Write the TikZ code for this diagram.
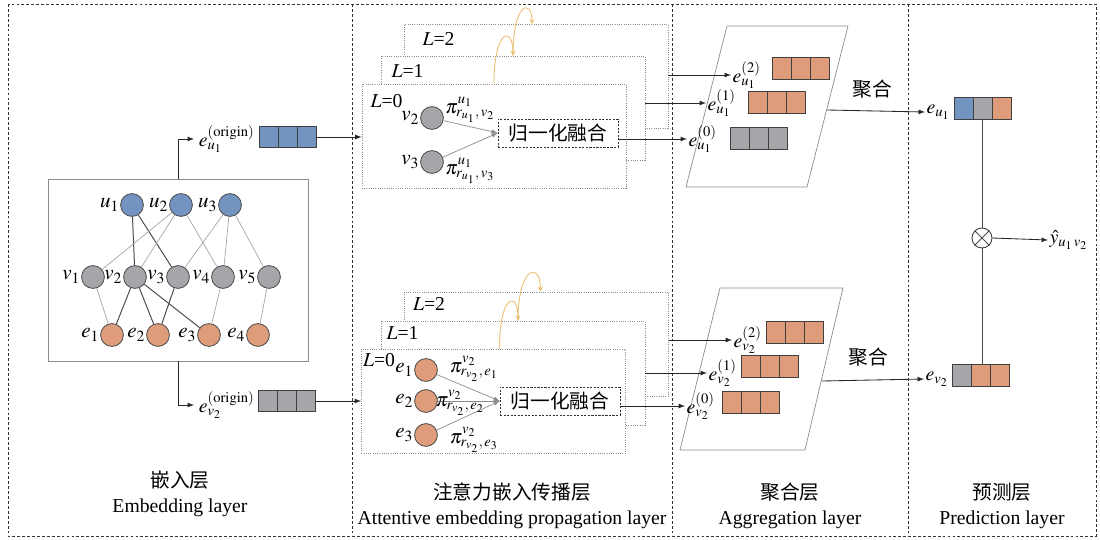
\documentclass[tikz,border=0pt]{standalone}
\usepackage{mathptmx}
\usepackage{fontspec}
\setmainfont{Liberation Serif}
\newfontfamily\cjk{Noto Sans CJK SC}
\usepackage{tikz}
\usetikzlibrary{arrows,positioning,calc}
\usepackage{xcolor}
\definecolor{ngblue}{RGB}{115,148,192}
\definecolor{nggray}{RGB}{166,166,170}
\definecolor{ngorange}{RGB}{222,156,122}
\definecolor{nggold}{RGB}{236,190,110}
\tikzstyle{panel} = [dashed, dash pattern=on 2pt off 1.5pt, black!80, line width=0.5pt]
\tikzstyle{arrow} = [->, >=latex, black!85, line width=0.6pt]
\tikzstyle{vline} = [black!70, line width=0.6pt]
\tikzstyle{strong} = [black!70, line width=0.7pt]
\tikzstyle{weak} = [black!35, line width=0.5pt]
\tikzstyle{weakarrow} = [->, >=latex, black!45, line width=0.5pt]
\tikzstyle{goldarrow} = [->, >=stealth, color=nggold, line width=0.6pt]
\tikzstyle{graphnode} = [circle, minimum size=0.57cm, inner sep=0pt, draw=black!70, line width=0.6pt]
\tikzstyle{unode} = [graphnode, fill=ngblue]
\tikzstyle{vnode} = [graphnode, fill=nggray]
\tikzstyle{enode} = [graphnode, fill=ngorange]
\tikzstyle{lab} = [font=\fontsize{15}{18}\selectfont, inner sep=0.5pt]
\tikzstyle{layerbox} = [rectangle, draw=black!45, densely dotted, fill=white, minimum width=6.6cm, minimum height=2.6cm, line width=0.6pt]
\tikzstyle{fusebox} = [rectangle, draw=black!80, dashed, dash pattern=on 1.5pt off 1pt, minimum width=3cm, minimum height=0.7cm, font=\cjk\fontsize{14}{17}\selectfont]
\tikzstyle{cell} = [rectangle, draw=black!75, line width=0.7pt, minimum width=0.467cm, minimum height=0.53cm, inner sep=0pt, outer sep=0pt]
\tikzstyle{title} = [align=center, font=\fontsize{14}{18}\selectfont]
\newcommand{\embvec}[5]{%
    \node[cell, fill=#3] (#1a) at (#2) {};
    \node[cell, fill=#4, right=0pt of #1a] (#1b) {};
    \node[cell, fill=#5, right=0pt of #1b] (#1c) {};
}

\begin{document}
\begin{tikzpicture}[x=0.025cm, y=-0.025cm, font=\fontsize{14}{17}\selectfont]
    \useasboundingbox (0,0) rectangle (1100,540);

    % four layers
    \draw[panel] (8,4) rectangle (1096,536);
    \foreach \x in {352, 672, 908}
        \draw[panel] (\x,4) -- (\x,536);

    % embedding layer
    \node[draw=black!45, line width=0.6pt, minimum width=6.5cm, minimum height=4.55cm] (graph) at (178,270) {};
    \node[unode, label={[lab]left:$u_1$}] (u1) at (132,205) {};
    \node[unode, label={[lab]left:$u_2$}] (u2) at (181,205) {};
    \node[unode, label={[lab]left:$u_3$}] (u3) at (230,205) {};
    \node[vnode, label={[lab]left:$v_1$}] (v1) at (93,277) {};
    \node[vnode, label={[lab]left:$v_2$}] (v2) at (135,277) {};
    \node[vnode, label={[lab]left:$v_3$}] (v3) at (178,277) {};
    \node[vnode, label={[lab]left:$v_4$}] (v4) at (223,277) {};
    \node[vnode, label={[lab]left:$v_5$}] (v5) at (269,277) {};
    \node[enode, label={[lab]left:$e_1$}] (e1) at (112,335) {};
    \node[enode, label={[lab]left:$e_2$}] (e2) at (158,335) {};
    \node[enode, label={[lab]left:$e_3$}] (e3) at (209,335) {};
    \node[enode, label={[lab]left:$e_4$}] (e4) at (258,335) {};
    \foreach \a/\b in {u1/v2, u1/v3, v2/e1, v2/e2, v2/e3, v3/e2}
        \draw[strong] (\a) -- (\b);
    \foreach \a/\b in {u2/v1, u2/v2, u2/v4, u3/v3, u3/v4, u3/v5, v1/e1, v4/e3, v5/e4}
        \draw[weak] (\a) -- (\b);

    \node[anchor=west] (euorig) at (194,139) {$e_{u_1}^{(\mathrm{origin})}$};
    \node[anchor=west] (evorig) at (194,405) {$e_{v_2}^{(\mathrm{origin})}$};
    \draw[arrow] (graph.north) |- (euorig.west);
    \draw[arrow] (graph.south) |- (evorig.west);
    \embvec{ubox}{269.3,137}{ngblue}{ngblue}{ngblue}
    \embvec{vbox}{268.3,401}{nggray}{nggray}{nggray}

    % propagation layers, user side
    \node[layerbox] (L2u) at (536,76.5) {};
    \node[layerbox] (L1u) at (513,108) {};
    \node[layerbox] (L0u) at (494,136) {};
    \node at ([shift={(35,15)}]L2u.north west) {$L$=2};
    \node at ([shift={(27,15)}]L1u.north west) {$L$=1};
    \node at ([shift={(25,17)}]L0u.north west) {$L$=0};
    \node[vnode, label={[lab]left:$v_2$}] (pv2) at (432,118) {};
    \node[vnode, label={[lab]left:$v_3$}] (pv3) at (432,162) {};
    \node[fusebox] (fuseu) at (558,133) {归一化融合};
    \draw[weakarrow] (pv2) -- (fuseu.west);
    \draw[weakarrow] (pv3) -- (fuseu.west);
    \node (piu2) at (470,110) {$\pi^{u_1}_{r_{u_1},\,v_2}$};
    \node (piu3) at (470,171) {$\pi^{u_1}_{r_{u_1},\,v_3}$};
    \draw[goldarrow] (L0u.north) .. controls +(0,-55) and +(0,-30) .. (L1u.north);
    \draw[goldarrow] (L1u.north) .. controls +(0,-55) and +(0,-25) .. ([xshift=-0.1cm]L2u.north);
    \draw[arrow] (uboxc.east) -- (uboxc.east -| L0u.west);

    % propagation layers, item side
    \node[layerbox] (L2v) at (536.5,344) {};
    \node[layerbox] (L1v) at (513,373) {};
    \node[layerbox] (L0v) at (493.5,401) {};
    \node at ([shift={(25,12)}]L2v.north west) {$L$=2};
    \node at ([shift={(22,12)}]L1v.north west) {$L$=1};
    \node at ([shift={(18,11)}]L0v.north west) {$L$=0};
    \node[enode, label={[lab]left:$e_1$}] (pe1) at (426,370) {};
    \node[enode, label={[lab]left:$e_2$}] (pe2) at (426,401) {};
    \node[enode, label={[lab]left:$e_3$}] (pe3) at (426,435) {};
    \node[fusebox] (fusev) at (560,401) {归一化融合};
    \draw[weakarrow] (pe1) -- (fusev.west);
    \draw[weakarrow] (pe2) -- (fusev.west);
    \draw[weakarrow] (pe3) -- (fusev.west);
    \node (piv1) at (474,369) {$\pi^{v_2}_{r_{v_2},\,e_1}$};
    \node (piv2) at (460,403) {$\pi^{v_2}_{r_{v_2},\,e_2}$};
    \node (piv3) at (474,440) {$\pi^{v_2}_{r_{v_2},\,e_3}$};
    \draw[goldarrow] ([xshift=0.15cm]L0v.north) .. controls +(0,-55) and +(0,-30) .. ([xshift=0.125cm]L1v.north);
    \draw[goldarrow] ([xshift=0.125cm]L1v.north) .. controls +(0,-55) and +(0,-30) .. ([xshift=0.1cm]L2v.north);
    \draw[arrow] (vboxc.east) -- (vboxc.east -| L0v.west);

    % aggregation layer
    \draw[black!45, line width=0.5pt] (727,26) -- (848,26) -- (807,187) -- (686,187) -- cycle;
    \draw[black!45, line width=0.5pt] (720,288) -- (843,288) -- (805,450) -- (680,450) -- cycle;
    \node[anchor=west, inner sep=1pt] (eu2) at (731,75) {$e_{u_1}^{(2)}$};
    \node[anchor=west, inner sep=1pt] (eu1) at (706,103) {$e_{u_1}^{(1)}$};
    \node[anchor=west, inner sep=1pt] (eu0) at (687,139) {$e_{u_1}^{(0)}$};
    \embvec{aub}{782.3,68.5}{ngorange}{ngorange}{ngorange}
    \embvec{auc}{758.3,102.5}{ngorange}{ngorange}{ngorange}
    \embvec{aua}{740.3,138.5}{nggray}{nggray}{nggray}
    \draw[arrow] (L2u.east |- eu2.west) -- (eu2.west);
    \draw[arrow] (L1u.east |- eu1.west) -- (eu1.west);
    \draw[arrow] (fuseu.east |- eu0.west) -- (eu0.west);

    \node[anchor=west, inner sep=1pt] (ev2) at (732,340) {$e_{v_2}^{(2)}$};
    \node[anchor=west, inner sep=1pt] (ev1) at (707,373) {$e_{v_2}^{(1)}$};
    \node[anchor=west, inner sep=1pt] (ev0) at (685,406) {$e_{v_2}^{(0)}$};
    \embvec{avb}{776.3,332.5}{ngorange}{ngorange}{ngorange}
    \embvec{avc}{751.3,366.5}{ngorange}{ngorange}{ngorange}
    \embvec{ava}{732.3,402.5}{ngorange}{ngorange}{ngorange}
    \draw[arrow] (L2v.east |- ev2.west) -- (ev2.west);
    \draw[arrow] (L1v.east |- ev1.west) -- (ev1.west);
    \draw[arrow] (fusev.east |- ev0.west) -- (ev0.west);

    \node[font=\cjk\fontsize{14}{17}\selectfont] (aggulab) at (872,89) {聚合};
    \node[font=\cjk\fontsize{14}{17}\selectfont] (aggvlab) at (868,357) {聚合};
    \coordinate (aggu) at (827,110);
    \coordinate (aggv) at (822,381);

    % prediction layer
    \node[anchor=west, inner sep=1pt] (eufin) at (925,112) {$e_{u_1}$};
    \node[anchor=west, inner sep=1pt] (evfin) at (924,379) {$e_{v_2}$};
    \embvec{pu}{964.3,108.5}{ngblue}{nggray}{ngorange}
    \embvec{pv}{962.3,375.5}{nggray}{ngorange}{ngorange}
    \draw[arrow] (aggu) -- (eufin.west);
    \draw[arrow] (aggv) -- (evfin.west);
    \node[circle, draw=black!80, line width=0.6pt, minimum size=0.5cm, inner sep=0pt] (ot) at (982,238) {};
    \draw[vline] (ot.north west) -- (ot.south east) (ot.north east) -- (ot.south west);
    \draw[vline] (ot.north |- pub.south) -- (ot.north);
    \draw[vline] (ot.south) -- (ot.south |- pvb.north);
    \node[anchor=west, inner sep=1pt] (yhat) at (1048,240) {$\hat{y}_{u_1\,v_2}$};
    \draw[arrow] (ot.east) -- (yhat.west);

    % layer titles
    \node[title] (embtitle) at (180,494) {{\cjk 嵌入层}\\Embedding layer};
    \node[title] (proptitle) at (512,506) {{\cjk 注意力嵌入传播层}\\Attentive embedding propagation layer};
    \node[title] (aggtitle) at (790,506) {{\cjk 聚合层}\\Aggregation layer};
    \node[title] (predtitle) at (1002,506) {{\cjk 预测层}\\Prediction layer};
\end{tikzpicture}
\end{document}
